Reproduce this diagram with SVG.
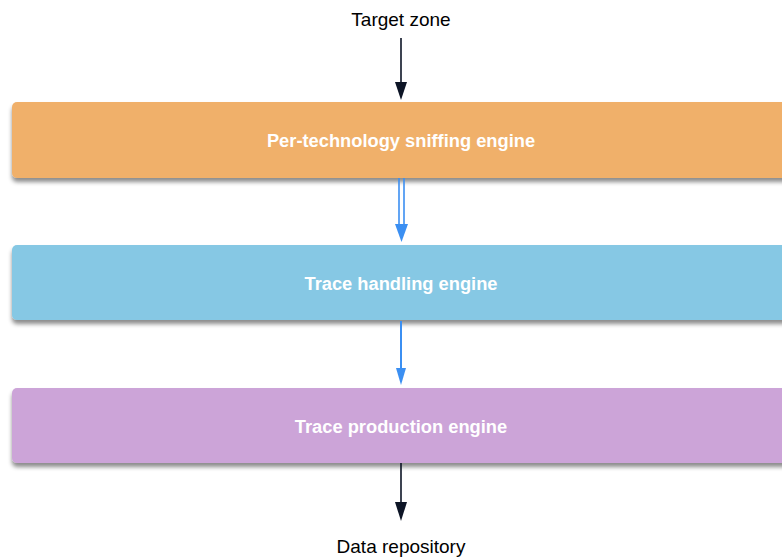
<svg xmlns="http://www.w3.org/2000/svg" width="782" height="557" viewBox="0 0 782 557">
<style>
.lbl{font-family:"Liberation Sans",Arial,sans-serif;font-size:19px;fill:#000;text-anchor:middle}
.nlbl{font-family:"Liberation Sans",Arial,sans-serif;font-size:18.3px;font-weight:bold;fill:#fff;text-anchor:middle}
.blk{stroke:#0d1526;stroke-width:1.6;fill:none}
.blu{stroke:#3b8ff2;stroke-width:1.6;fill:none}
</style>
<defs>
<filter id="sh" x="-5%" y="-20%" width="110%" height="150%">
<feDropShadow dx="0" dy="4" stdDeviation="2.2" flood-color="#000" flood-opacity="0.45"/>
</filter>
</defs>
<text class="lbl" x="401" y="26">Target zone</text>
<text class="lbl" x="401" y="553">Data repository</text>
<g id="n1"><rect x="12" y="102" width="790" height="76" rx="5" fill="#f0b06b" filter="url(#sh)"/><text class="nlbl" x="401" y="147">Per-technology sniffing engine</text></g>
<g id="n2"><rect x="12" y="245" width="790" height="75" rx="5" fill="#86c8e4" filter="url(#sh)"/><text class="nlbl" x="401" y="290">Trace handling engine</text></g>
<g id="n3"><rect x="12" y="388" width="790" height="75" rx="5" fill="#cca4d8" filter="url(#sh)"/><text class="nlbl" x="401" y="433">Trace production engine</text></g>
<g id="edges">
<line class="blk" x1="401" y1="38" x2="401" y2="86"/>
<path d="M395,82 L407,82 L401,100 Z" fill="#0d1526"/>
<line class="blu" x1="399" y1="178" x2="399" y2="228"/>
<line class="blu" x1="404" y1="178" x2="404" y2="228"/>
<path d="M395,224 L408,224 L401.5,242 Z" fill="#3b8ff2"/>
<line class="blu" x1="401" y1="321" x2="401" y2="372" style="stroke-width:2"/>
<path d="M396,368 L406,368 L401,385 Z" fill="#3b8ff2"/>
<line class="blk" x1="401" y1="463" x2="401" y2="506"/>
<path d="M395,502 L407,502 L401,521 Z" fill="#0d1526"/>
</g>
</svg>
